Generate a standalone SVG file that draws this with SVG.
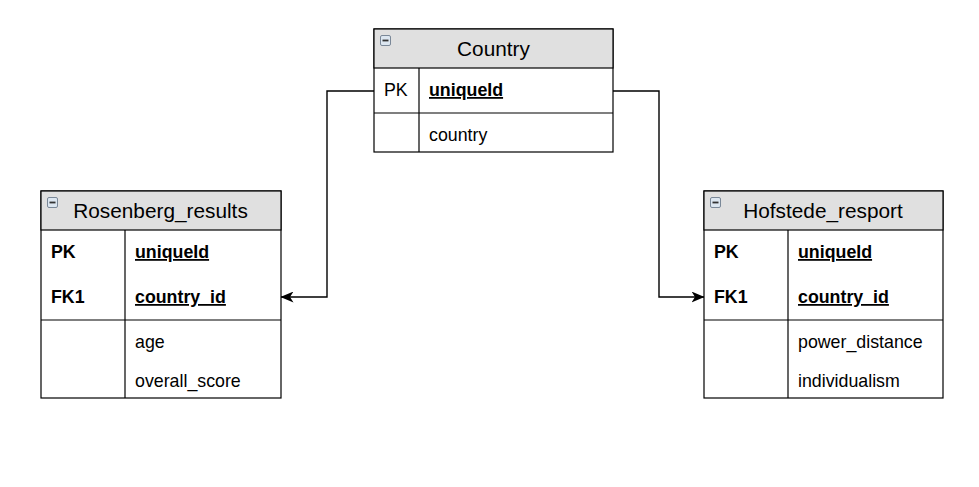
<svg xmlns="http://www.w3.org/2000/svg" width="979" height="487" viewBox="0 0 979 487">
<defs>
<style>
.box{fill:#fff;stroke:#000;stroke-width:1.2}
.hdr{fill:#e0e0e0;stroke:#000;stroke-width:1.2}
.ln{stroke:#000;stroke-width:1.2;fill:none}
.title{font-family:"Liberation Sans",Arial,sans-serif;font-size:20.8px;fill:#000;text-anchor:middle}
.f{font-family:"Liberation Sans",Arial,sans-serif;font-size:17.8px;fill:#000}
.b{font-weight:bold}
.u{font-weight:bold;text-decoration:underline}
.conn{stroke:#000;stroke-width:1.4;fill:none}
</style>
<marker id="arr" viewBox="0 0 13 11" refX="12.5" refY="5.5" markerWidth="13" markerHeight="11" markerUnits="userSpaceOnUse" orient="auto">
<path d="M0,0 L13,5.5 L0,11 L3.5,5.5 Z" fill="#000"/>
</marker>
<g id="icon">
<rect x="0.5" y="0.5" width="10" height="10" rx="1.5" fill="#dce6f0" stroke="#7a8898" stroke-width="1"/>
<rect x="2.5" y="4.6" width="6" height="1.8" fill="#333"/>
</g>
</defs>
<rect width="979" height="487" fill="#fff"/>

<g id="connectors">
<path class="conn" d="M374,91 H327 V297 H281" marker-end="url(#arr)"/>
<path class="conn" d="M613,91 H659 V297 H704" marker-end="url(#arr)"/>
</g>

<g id="country">
<rect class="box" x="374" y="29" width="239" height="123"/>
<rect class="hdr" x="374" y="29" width="239" height="39"/>
<line class="ln" x1="374" y1="113" x2="613" y2="113"/>
<line class="ln" x1="419" y1="68" x2="419" y2="152"/>
<use href="#icon" x="380" y="35"/>
<text class="title" x="493.5" y="56">Country</text>
<text class="f" x="384" y="96">PK</text>
<text class="f u" x="429" y="96">uniqueId</text>
<text class="f" x="429" y="141">country</text>
</g>

<g id="rosenberg">
<rect class="box" x="41" y="191" width="240" height="207"/>
<rect class="hdr" x="41" y="191" width="240" height="39"/>
<line class="ln" x1="41" y1="320" x2="281" y2="320"/>
<line class="ln" x1="125" y1="230" x2="125" y2="398"/>
<use href="#icon" x="47" y="197"/>
<text class="title" x="160.5" y="218">Rosenberg_results</text>
<text class="f b" x="51" y="258">PK</text>
<text class="f u" x="135" y="258">uniqueId</text>
<text class="f b" x="51" y="303">FK1</text>
<text class="f u" x="135" y="303">country_id</text>
<text class="f" x="135" y="348">age</text>
<text class="f" x="135" y="387">overall_score</text>
</g>

<g id="hofstede">
<rect class="box" x="704" y="191" width="239" height="207"/>
<rect class="hdr" x="704" y="191" width="239" height="39"/>
<line class="ln" x1="704" y1="320" x2="943" y2="320"/>
<line class="ln" x1="788" y1="230" x2="788" y2="398"/>
<use href="#icon" x="710" y="197"/>
<text class="title" x="823" y="218">Hofstede_resport</text>
<text class="f b" x="714" y="258">PK</text>
<text class="f u" x="798" y="258">uniqueId</text>
<text class="f b" x="714" y="303">FK1</text>
<text class="f u" x="798" y="303">country_id</text>
<text class="f" x="798" y="348">power_distance</text>
<text class="f" x="798" y="387">individualism</text>
</g>
</svg>
